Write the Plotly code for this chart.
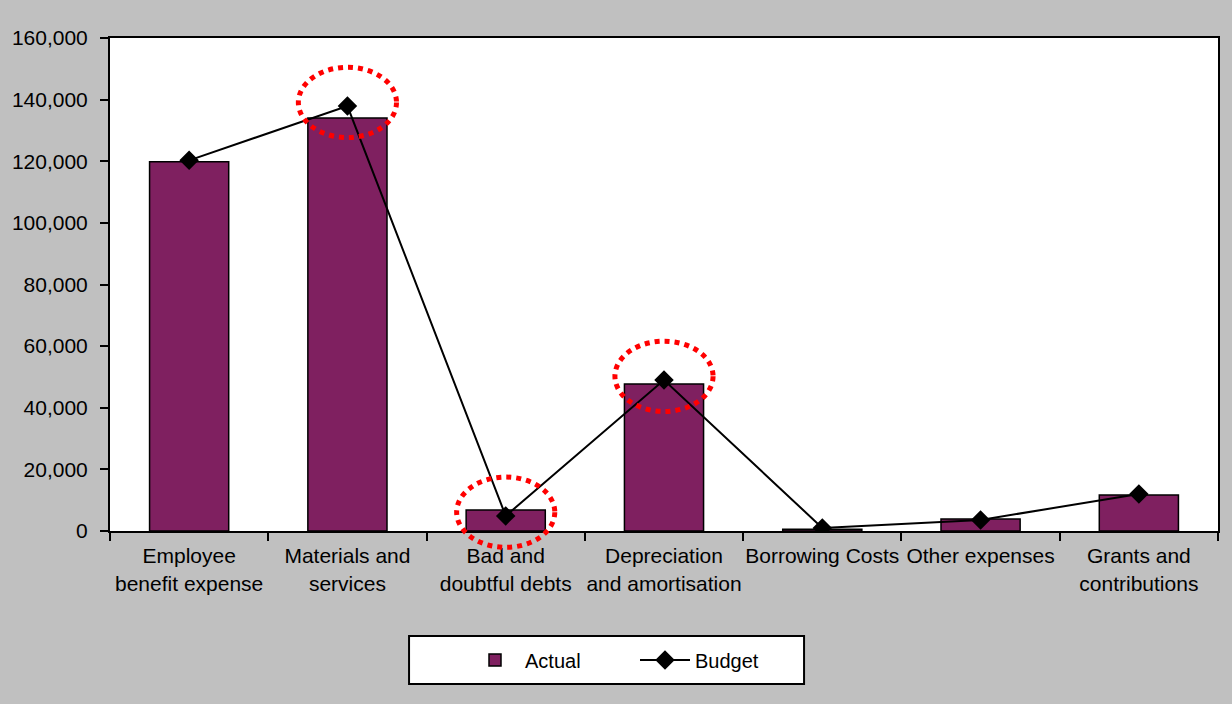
import plotly.graph_objects as go

categories = ["Employee<br>benefit expense", "Materials and<br>services", "Bad and<br>doubtful debts",
              "Depreciation<br>and amortisation", "Borrowing Costs", "Other expenses",
              "Grants and<br>contributions"]
actual = [119800, 134000, 6800, 47700, 600, 3900, 11700]
budget = [120300, 137900, 4900, 49000, 1000, 3600, 12000]
highlight_idx = [1, 2, 3]
y_max = 160000
y_ticks = [0, 20000, 40000, 60000, 80000, 100000, 120000, 140000, 160000]

FONT = "Liberation Sans, Arial, sans-serif"

fig = go.Figure()
fig.add_trace(go.Bar(
    x=categories, y=actual, name="Actual",
    marker=dict(color="#7f2060", line=dict(color="black", width=1.5)),
))
fig.add_trace(go.Scatter(
    x=categories, y=budget, name="Budget", mode="lines+markers",
    line=dict(color="black", width=2),
    marker=dict(symbol="diamond", size=15, color="black"),
))

n = len(categories)
shapes = []
for i in highlight_idx:
    cx = (i + 0.5) / n
    cy = (budget[i] + 1200) / y_max
    hw = 0.31 / n
    hh = 11400 / y_max
    shapes.append(dict(
        type="circle", xref="x domain", yref="y domain",
        x0=cx - hw, x1=cx + hw, y0=cy - hh, y1=cy + hh,
        line=dict(color="red", width=5, dash="5px,5px"),
        layer="above",
    ))

# legend frame (white box with black border)
shapes.append(dict(
    type="rect", xref="paper", yref="paper",
    x0=0.2699, x1=0.6264, y0=-0.3103, y1=-0.213,
    fillcolor="white", line=dict(color="black", width=2), layer="below",
))

fig.update_layout(
    width=1232, height=704,
    paper_bgcolor="#c0c0c0", plot_bgcolor="white",
    margin=dict(l=110, r=14, t=38, b=173),
    font=dict(family=FONT, size=21, color="black"),
    bargap=0.5,
    shapes=shapes,
    showlegend=True,
    legend=dict(
        orientation="h", x=0.3204, y=-0.2617, xanchor="left", yanchor="middle",
        bgcolor="rgba(0,0,0,0)", borderwidth=0,
        font=dict(family=FONT, size=20),
        entrywidth=105, entrywidthmode="pixels",
        itemwidth=50,
    ),
    xaxis=dict(
        type="category", range=[-0.5, n - 0.5],
        showline=True, linecolor="black", linewidth=2, mirror=True,
        ticks="outside", tickson="boundaries", ticklen=8, tickwidth=2, tickcolor="black",
        showgrid=False, tickangle=0, ticklabelstandoff=5,
    ),
    yaxis=dict(
        range=[0, y_max], tickvals=y_ticks, tickformat=",",
        showline=True, linecolor="black", linewidth=2, mirror=True,
        ticks="outside", ticklen=8, tickwidth=2, tickcolor="black",
        showgrid=False, zeroline=False, ticklabelstandoff=8,
    ),
)

fig.write_html("out.html", config={"displayModeBar": False},
               post_script="document.body.style.margin='0px';")
